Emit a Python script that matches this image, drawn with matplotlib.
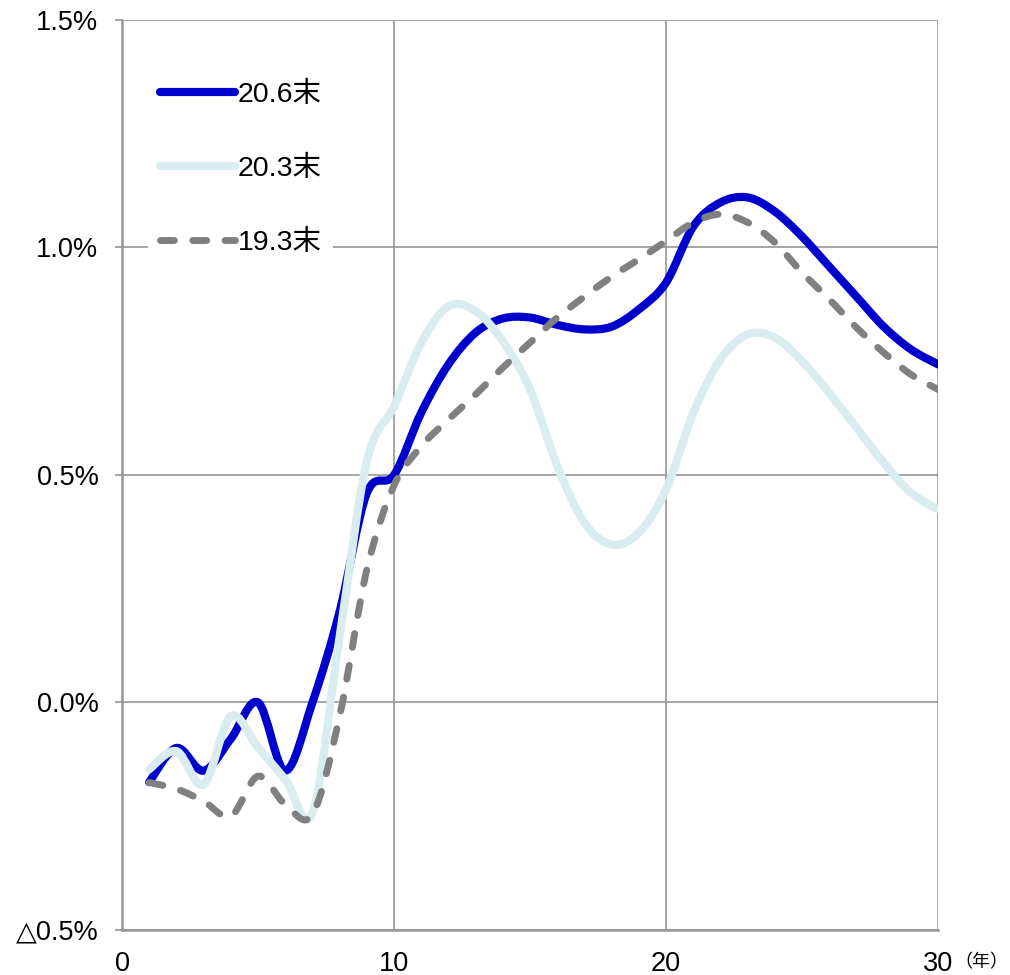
import numpy as np
import matplotlib
matplotlib.use('Agg')
import matplotlib.pyplot as plt
from matplotlib.path import Path
from matplotlib.patches import PathPatch
from matplotlib.lines import Line2D
from matplotlib.font_manager import FontProperties

# years to maturity
years = list(range(1, 31))

# 20.6末
yield_2006 = [-0.175, -0.10, -0.15, -0.08, 0.00, -0.15, 0.00, 0.20, 0.46, 0.50,
              0.637, 0.743, 0.813, 0.844, 0.846, 0.83, 0.82, 0.826, 0.864, 0.923,
              1.046, 1.099, 1.11, 1.079, 1.024, 0.958, 0.892, 0.826, 0.776, 0.743]
# 20.3末
yield_2003 = [-0.147, -0.107, -0.18, -0.03, -0.099, -0.169, -0.242, 0.145, 0.53, 0.651,
              0.79, 0.871, 0.86, 0.794, 0.688, 0.52, 0.395, 0.347, 0.373, 0.468,
              0.636, 0.754, 0.809, 0.802, 0.75, 0.68, 0.604, 0.527, 0.461, 0.424]
# 19.3末
yield_1903 = [-0.176, -0.19, -0.217, -0.25, -0.162, -0.224, -0.246, -0.03, 0.292, 0.477,
              0.563, 0.622, 0.677, 0.736, 0.791, 0.846, 0.892, 0.936, 0.974, 1.014,
              1.055, 1.073, 1.055, 1.011, 0.945, 0.886, 0.824, 0.769, 0.721, 0.688]

labels = ['20.6末', '20.3末', '19.3末']
y_ticks = [-0.5, 0.0, 0.5, 1.0, 1.5]
y_tick_labels = ['△0.5%', '0.0%', '0.5%', '1.0%', '1.5%']
x_ticks = [0, 10, 20, 30]


def smooth_path(x, y):
    # Excel-like smoothed line: cubic bezier segments through every point
    pts = np.column_stack([x, y]).astype(float)
    n = len(pts)
    verts = [pts[0]]
    codes = [Path.MOVETO]
    for i in range(n - 1):
        p0 = pts[i - 1] if i > 0 else pts[i]
        p1 = pts[i]
        p2 = pts[i + 1]
        p3 = pts[i + 2] if i + 2 < n else pts[i + 1]
        c1 = p1 + (p2 - p0) / 6.0
        c2 = p2 - (p3 - p1) / 6.0
        verts += [c1, c2, p2]
        codes += [Path.CURVE4] * 3
    return Path(verts, codes)


series = [
    (yield_2006, dict(color='#0000CC', lw=5.9, ls='-')),
    (yield_2003, dict(color='#D9EDF0', lw=5.9, ls='-')),
    (yield_1903, dict(color='#808080', lw=5.0, ls=(0, (2.0, 2.65)))),
]

fig = plt.figure(figsize=(10.1, 9.75), dpi=100)
ax = fig.add_axes([0.1208, 0.0462, 0.808, 0.9333])

ax.set_xlim(0, 30)
ax.set_ylim(-0.5, 1.5)

handles = []
for vals, st in series:
    patch = PathPatch(smooth_path(years, vals), facecolor='none',
                      edgecolor=st['color'], lw=st['lw'], linestyle=st['ls'],
                      capstyle='round', joinstyle='round', zorder=3)
    ax.add_patch(patch)
    handles.append(Line2D([], [], color=st['color'], lw=st['lw'],
                          linestyle=st['ls'], solid_capstyle='round',
                          dash_capstyle='round'))

tick_font = ['Liberation Sans', 'DejaVu Sans']
ax.set_xticks(x_ticks)
ax.set_xticklabels([str(t) for t in x_ticks], family=tick_font, fontsize=19.5)
ax.set_yticks(y_ticks)
ax.set_yticklabels(y_tick_labels, family=tick_font, fontsize=19.5)
ax.tick_params(axis='x', length=0, pad=15)
ax.tick_params(axis='y', length=5, width=1.2, color='#969696', pad=12)

ax.grid(True, color='#969696', lw=1.2)
ax.set_axisbelow(True)
for side in ['top', 'right']:
    ax.spines[side].set_visible(False)
for side in ['left', 'bottom']:
    ax.spines[side].set_color('#969696')
    ax.spines[side].set_linewidth(1.8)

ax.text(1.0865, -0.0355, '（年）', transform=ax.transAxes, fontsize=13,
        family=['Noto Sans CJK JP'], ha='right', va='center')

leg_font = FontProperties(family=['Liberation Sans', 'Noto Sans CJK JP'], size=20.5)
leg = ax.legend(handles, labels, loc='upper left', bbox_to_anchor=(0.032, 0.945),
                prop=leg_font, handlelength=2.65, handletextpad=0.1,
                labelspacing=1.68, borderpad=0.4, borderaxespad=0,
                frameon=True, fancybox=False)
leg.get_frame().set_facecolor('white')
leg.get_frame().set_edgecolor('none')
leg.get_frame().set_alpha(1)

fig.savefig('out.png', dpi=100)
